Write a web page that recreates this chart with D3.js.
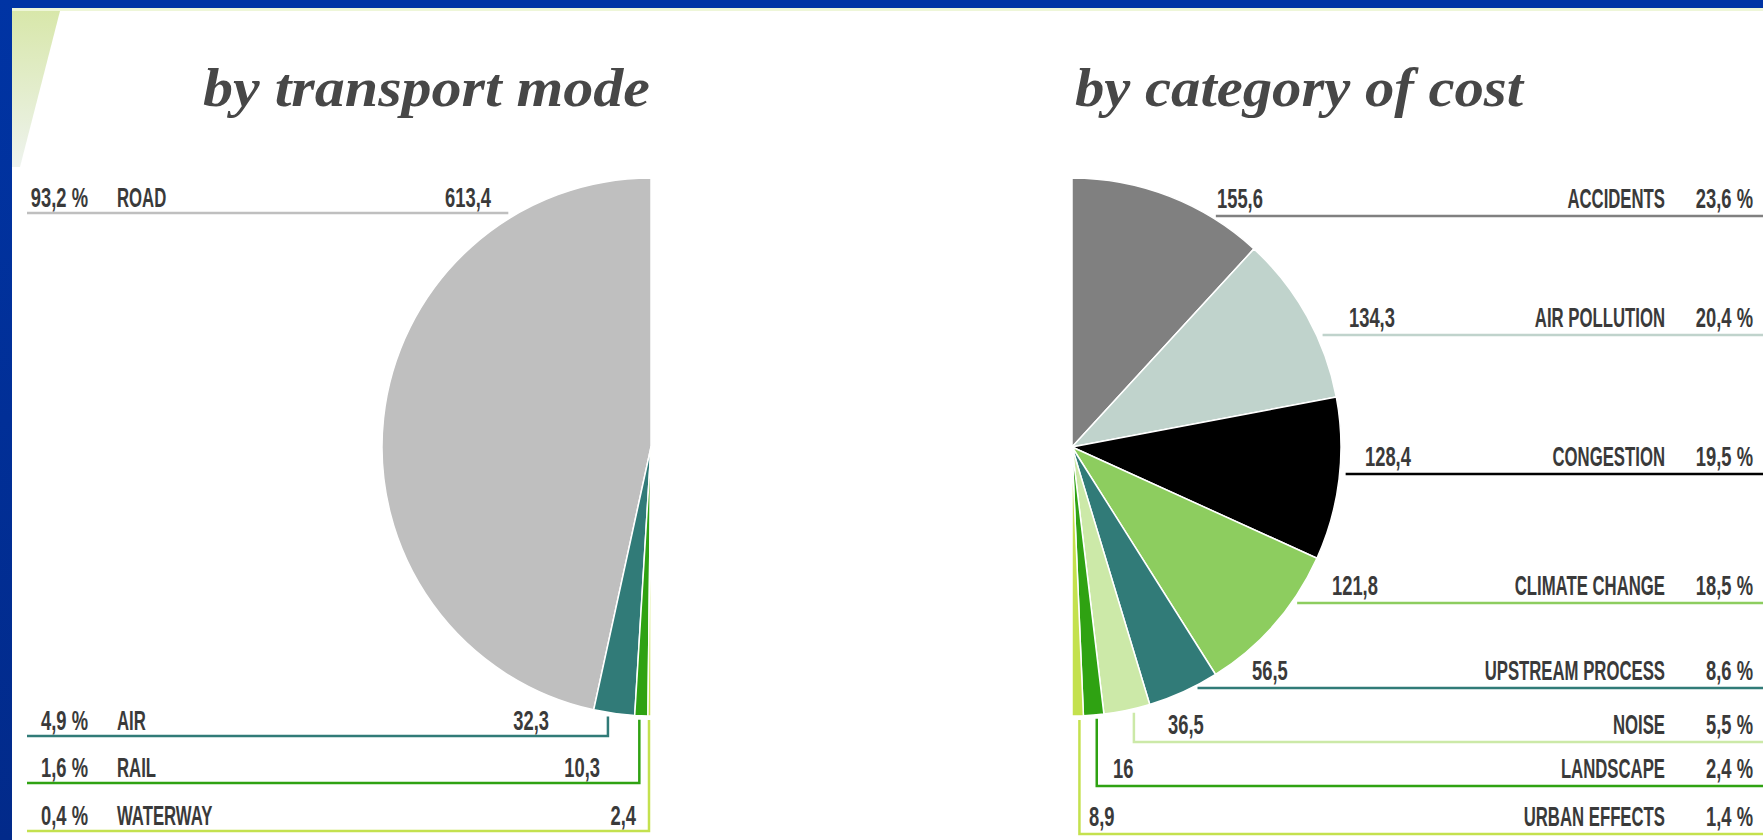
<!DOCTYPE html>
<html>
<head>
<meta charset="utf-8">
<title>External costs of transport</title>
<script src="https://cdn.jsdelivr.net/npm/d3@7"></script>
<style>
  html, body { margin: 0; padding: 0; background: #fff; }
  svg { display: block; }
  .lbl { font-family: "Liberation Sans", Arial, sans-serif; font-size: 27px; font-weight: bold; fill: #3a3a3a; }
  .title { font-family: "Liberation Serif", "Times New Roman", serif; font-style: italic; font-weight: bold; font-size: 54px; fill: #474747; }
</style>
</head>
<body>
<script>
// ---- data: external costs by transport mode (bn EUR) ----
const modeNames  = ["ROAD", "AIR", "RAIL", "WATERWAY"];
const modeValues = [613.4, 32.3, 10.3, 2.4];
const modeShares = [93.2, 4.9, 1.6, 0.4];

// ---- data: external costs by category of cost (bn EUR) ----
const costNames  = ["ACCIDENTS", "AIR POLLUTION", "CONGESTION", "CLIMATE CHANGE",
                    "UPSTREAM PROCESS", "NOISE", "LANDSCAPE", "URBAN EFFECTS"];
const costValues = [155.6, 134.3, 128.4, 121.8, 56.5, 36.5, 16, 8.9];
const costShares = [23.6, 20.4, 19.5, 18.5, 8.6, 5.5, 2.4, 1.4];

// ---- styling ----
const modeColors = ["#bfbfbf", "#317b78", "#2fa212", "#c4e14e"];
const costColors = ["#808080", "#c0d3cc", "#000000", "#8dcd5f",
                    "#317b78", "#cce9a8", "#2fa212", "#c4e14e"];

// ---- label layout (row baselines and value label anchors) ----
const modeRowY   = [213, 736, 783, 831];
const modeValueX = [491, 549, 600, 636];
const costRowY   = [216, 335, 474, 603, 688, 742, 786, 834];
const costValueX = [1217, 1349, 1365, 1332, 1252, 1168, 1113, 1089];

const W = 1763, H = 840, R = 269;
const fmt = v => (Number.isInteger(v) ? String(v) : v.toFixed(1)).replace(".", ",");
const fmtPct = v => v.toFixed(1).replace(".", ",") + " %";

const svg = d3.select("body").append("svg").attr("width", W).attr("height", H);
const defs = svg.append("defs");

// ---- slide frame ----
const gBlue = defs.append("linearGradient").attr("id", "blueSide").attr("x1", 0).attr("y1", 0).attr("x2", 0).attr("y2", 1);
gBlue.append("stop").attr("offset", 0).attr("stop-color", "#0034a4");
gBlue.append("stop").attr("offset", 1).attr("stop-color", "#022a8a");
const gTri = defs.append("linearGradient").attr("id", "paleTri").attr("x1", 0).attr("y1", 0).attr("x2", 0).attr("y2", 1);
gTri.append("stop").attr("offset", 0).attr("stop-color", "#d8e7aa");
gTri.append("stop").attr("offset", 1).attr("stop-color", "#eef3ee");

svg.append("rect").attr("width", W).attr("height", H).attr("fill", "#fff");
svg.append("rect").attr("x", 0).attr("y", 0).attr("width", W).attr("height", 8).attr("fill", "#0034a4");
svg.append("rect").attr("x", 12).attr("y", 8).attr("width", W - 12).attr("height", 3).attr("fill", "#eef6d8");
svg.append("polygon").attr("points", "12,11 60,11 20,167 12,167").attr("fill", "url(#paleTri)");
svg.append("rect").attr("x", 0).attr("y", 0).attr("width", 12).attr("height", H).attr("fill", "url(#blueSide)");

// ---- titles ----
svg.append("text").attr("class", "title").attr("x", 203).attr("y", 106)
  .attr("textLength", 447).attr("lengthAdjust", "spacingAndGlyphs").text("by transport mode");
svg.append("text").attr("class", "title").attr("x", 1075).attr("y", 106)
  .attr("textLength", 448).attr("lengthAdjust", "spacingAndGlyphs").text("by category of cost");

// condensed label helper
function label(g, text, x, y, anchor, sx) {
  g.append("text").attr("class", "lbl")
    .attr("transform", `translate(${x},${y}) scale(${sx},1)`)
    .attr("text-anchor", anchor).text(text);
}

const arc = d3.arc().innerRadius(0).outerRadius(R);

// half pie with leader lines; side = -1 draws the left half, +1 the right half
function halfPie(cx, cy, side, values, colors, rowY) {
  const pie = d3.pie().sort(null).startAngle(0).endAngle(side * Math.PI);
  const arcs = pie(values);
  const g = svg.append("g");

  g.append("g").attr("transform", `translate(${cx},${cy})`)
    .selectAll("path").data(arcs).join("path")
    .attr("d", arc)
    .attr("fill", (d, i) => colors[i])
    .attr("stroke", "#fff").attr("stroke-width", 1.5).attr("stroke-linejoin", "round");

  const lineX0 = side < 0 ? 27 : W;
  arcs.forEach((d, i) => {
    const y = rowY[i];
    const dy = y - cy;
    let path;
    if (Math.abs(dy) < R) {
      const ax = cx + side * Math.sqrt(R * R - dy * dy);
      const end = side < 0 ? ax - 10 : ax + 6;
      path = `M${lineX0},${y}H${end}`;
    } else {
      const a = d.startAngle + 0.35 * (d.endAngle - d.startAngle);
      const vx = cx + R * Math.sin(a);
      const vTop = cy - R * Math.cos(a) + 4;
      path = `M${lineX0},${y}H${vx}V${vTop}`;
    }
    g.append("path").attr("d", path).attr("fill", "none")
      .attr("stroke", colors[i]).attr("stroke-width", 2.5);
  });
  return g;
}

// ---- left: by transport mode ----
const gL = halfPie(651, 447, -1, modeValues, modeColors, modeRowY);
modeNames.forEach((n, i) => {
  const y = modeRowY[i] - 6;
  label(gL, fmtPct(modeShares[i]), 88, y, "end", 0.68);
  label(gL, n, 117, y, "start", 0.62);
  label(gL, fmt(modeValues[i]), modeValueX[i], y, "end", 0.68);
});

// ---- right: by category of cost ----
const gR = halfPie(1072, 447, 1, costValues, costColors, costRowY);
costNames.forEach((n, i) => {
  const y = costRowY[i] - 8;
  label(gR, fmt(costValues[i]), costValueX[i], y, "start", 0.68);
  label(gR, n, 1665, y, "end", 0.62);
  label(gR, fmtPct(costShares[i]), 1753, y, "end", 0.68);
});
</script>
</body>
</html>
